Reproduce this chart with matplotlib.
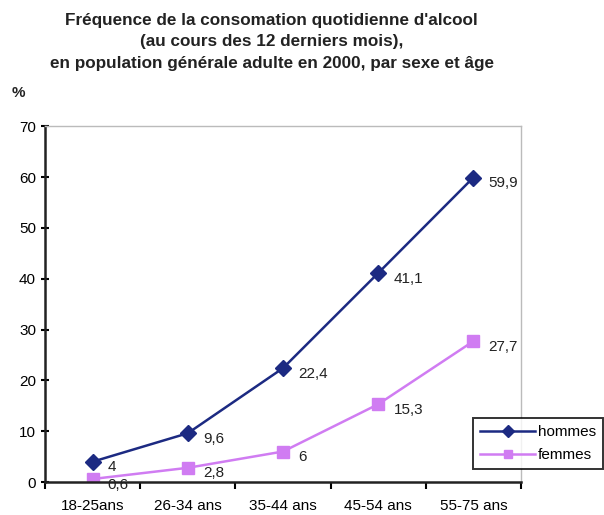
import matplotlib.pyplot as plt
import numpy as np

plt.rcParams['font.family'] = ['Liberation Sans', 'DejaVu Sans']

ages = ['18-25ans', '26-34 ans', '35-44 ans', '45-54 ans', '55-75 ans']
hommes = [4, 9.6, 22.4, 41.1, 59.9]
femmes = [0.6, 2.8, 6, 15.3, 27.7]
lbl_h = ['4', '9,6', '22,4', '41,1', '59,9']
lbl_f = ['0,6', '2,8', '6', '15,3', '27,7']

c_h = '#1c2a82'
c_f = '#d07cf2'

fig = plt.figure(figsize=(6.04, 5.15), dpi=100)
ax = fig.add_axes([0.0745, 0.064, 0.788, 0.691])

x = np.arange(len(ages))
ax.plot(x, hommes, color=c_h, marker='D', markersize=8.5, lw=1.8, label='hommes')
ax.plot(x, femmes, color=c_f, marker='s', markersize=8.5, lw=1.8, label='femmes')

for xi, v, t in zip(x, hommes, lbl_h):
    ax.annotate(t, (xi, v), xytext=(11, -4), textcoords='offset points',
                va='center', ha='left', fontsize=11, color='#222222')
for xi, v, t in zip(x, femmes, lbl_f):
    ax.annotate(t, (xi, v), xytext=(11, -4), textcoords='offset points',
                va='center', ha='left', fontsize=11, color='#222222')

ax.set_xlim(-0.5, 4.5)
ax.set_ylim(0, 70)
ax.set_yticks(range(0, 71, 10))
ax.set_xticks(x)
ax.set_xticklabels(ages, fontsize=11)
ax.set_xticks(np.arange(-0.5, 5, 1), minor=True)
ax.tick_params(axis='x', which='major', length=0, pad=12)
ax.tick_params(axis='x', which='minor', length=5, width=1.5, direction='out')
ax.tick_params(axis='y', labelsize=11, length=6, width=1.5, direction='inout')

for s in ['left', 'bottom']:
    ax.spines[s].set_linewidth(1.8)
    ax.spines[s].set_color('#222222')
for s in ['top', 'right']:
    ax.spines[s].set_linewidth(1)
    ax.spines[s].set_color('#bbbbbb')

leg = ax.legend(loc='upper left', bbox_to_anchor=(0.9, 0.18), fontsize=11,
                frameon=True, fancybox=False, edgecolor='black', handlelength=3.6,
                borderpad=0.45, labelspacing=0.6, handletextpad=0.15, markerscale=0.75,
                borderaxespad=0)
leg.get_frame().set_linewidth(1.4)

fig.text(0.45, 0.975, "Fréquence de la consomation quotidienne d'alcool\n"
         "(au cours des 12 derniers mois),\n"
         "en population générale adulte en 2000, par sexe et âge",
         ha='center', va='top', fontsize=12.3, fontweight='bold',
         linespacing=1.55, color='#222222')
fig.text(0.02, 0.82, '%', ha='left', va='center', fontsize=11, fontweight='bold',
         color='#222222')

fig.savefig('out.png', dpi=100)
